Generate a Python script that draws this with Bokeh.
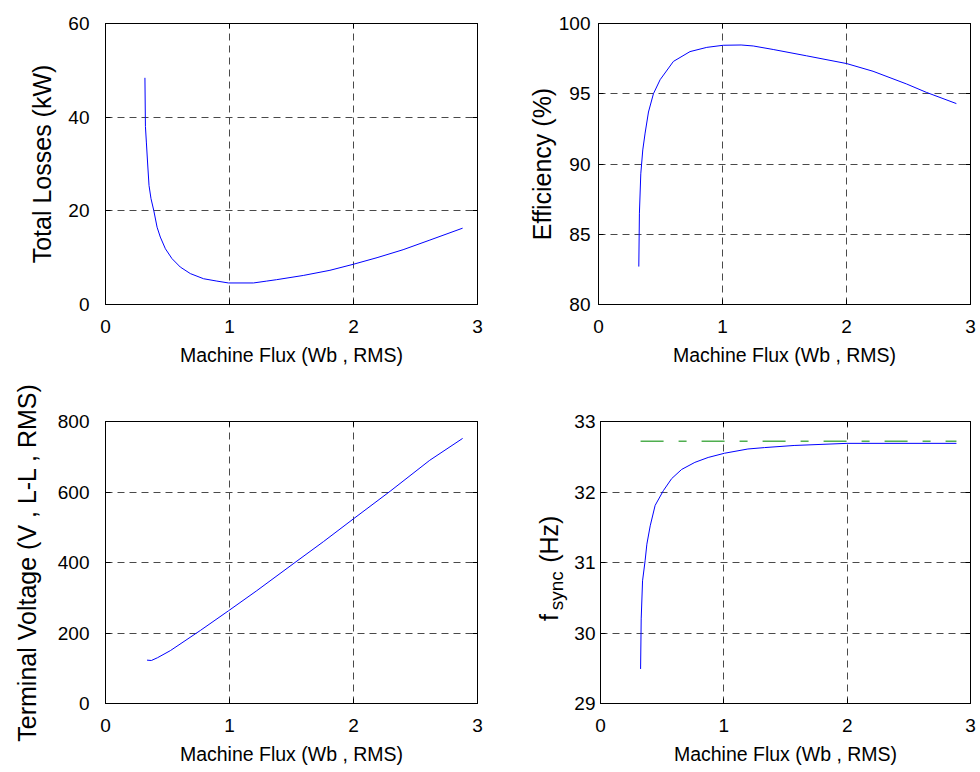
import math
from bokeh.plotting import figure
from bokeh.layouts import column, row
from bokeh.models import Range1d, FixedTicker, LinearAxis, CustomJSTickFormatter, Label
from bokeh.embed import file_html
from bokeh.resources import INLINE

FONT = "Liberation Sans"

# ---------------- data ----------------
x_ticks = [0, 1, 2, 3]
x_label = "Machine Flux (Wb , RMS)"

loss_flux = [0.318, 0.322, 0.330, 0.340, 0.351, 0.367, 0.389, 0.416, 0.442, 0.483,
             0.536, 0.603, 0.684, 0.791, 0.898, 0.992, 1.193, 1.30, 1.38, 1.595,
             1.81, 2.0, 2.19, 2.40, 2.61, 2.88]
loss_kw = [48.4, 38.0, 34.5, 30.0, 25.4, 22.6, 20.1, 16.5, 14.4, 11.9,
           9.8, 8.0, 6.6, 5.5, 5.0, 4.6, 4.6, 5.0, 5.3, 6.2,
           7.3, 8.6, 10.0, 11.7, 13.7, 16.3]
loss_ticks = [0, 20, 40, 60]

eff_flux = [0.325, 0.330, 0.341, 0.357, 0.376, 0.403, 0.443, 0.497, 0.604, 0.738,
            0.873, 1.006, 1.15, 1.248, 1.409, 1.678, 2.0, 2.214, 2.483, 2.644, 2.886]
eff_pct = [82.7, 86.5, 89.3, 91.0, 92.2, 93.7, 95.0, 96.0, 97.3, 98.0,
           98.3, 98.45, 98.47, 98.4, 98.15, 97.7, 97.15, 96.6, 95.7, 95.1, 94.3]
eff_ticks = [80, 85, 90, 95, 100]

volt_flux = [0.335, 0.37, 0.42, 0.523, 0.764, 0.992, 1.22, 1.528, 1.757, 2.0,
             2.295, 2.615, 2.88]
volt_v = [123, 122, 130, 150, 207, 263, 320, 400, 459, 524,
          602, 690, 752]
volt_ticks = [0, 200, 400, 600, 800]

fs_flux = [0.325, 0.330, 0.341, 0.362, 0.376, 0.403, 0.443, 0.51, 0.577, 0.658,
           0.765, 0.873, 1.006, 1.195, 1.33, 1.57, 2.0, 2.886]
fs_hz = [29.49, 30.2, 30.74, 31.03, 31.26, 31.52, 31.81, 32.02, 32.19, 32.32,
         32.42, 32.49, 32.55, 32.61, 32.63, 32.66, 32.69, 32.69]
fs_ref_flux = [0.325, 2.886]
fs_ref_hz = [32.72, 32.72]
fs_ticks = [29, 30, 31, 32, 33]

# ---------------- styling ----------------
TICK_SIZE = "19px"
XLABEL_SIZE = "19.5px"
YLABEL_SIZE = "25px"
SUB_SIZE = "19px"
FRAME_W = 372


def style_axis(ax):
    ax.axis_line_color = "black"
    ax.major_tick_line_color = "black"
    ax.major_tick_in = 5
    ax.major_tick_out = 0
    ax.minor_tick_line_color = None
    ax.major_label_text_font = FONT
    ax.major_label_text_font_size = TICK_SIZE
    ax.major_label_text_color = "black"
    ax.axis_label_text_font = FONT
    ax.axis_label_text_font_style = "normal"
    ax.axis_label_text_color = "black"


def make(ylabel, yr, yticks, bl, br, bt, bb, frame_h, tick_so, lab_so):
    p = figure(width=bl + FRAME_W + br, height=bt + frame_h + bb,
               x_range=Range1d(0, 3), y_range=Range1d(yr[0], yr[1]),
               output_backend="svg", toolbar_location=None, title=None,
               min_border_left=bl, min_border_right=br,
               min_border_top=bt, min_border_bottom=bb)
    p.background_fill_color = "white"
    p.border_fill_color = "white"
    p.outline_line_color = "black"
    p.outline_line_alpha = 1.0
    p.outline_line_width = 1

    p.xaxis.ticker = FixedTicker(ticks=x_ticks)
    p.yaxis.ticker = FixedTicker(ticks=yticks)
    for ax in p.xaxis:
        style_axis(ax)
        ax.axis_label = x_label
        ax.axis_label_text_font_size = XLABEL_SIZE
        ax.major_label_standoff = 15
        ax.axis_label_standoff = 8
    for ax in p.yaxis:
        style_axis(ax)
        ax.axis_label = ylabel if ylabel else None
        ax.axis_label_text_font_size = YLABEL_SIZE
        ax.major_label_standoff = tick_so
        ax.axis_label_standoff = lab_so

    # mirrored ticks on top / right (box on)
    blank = CustomJSTickFormatter(code="return ''")
    top = LinearAxis(ticker=FixedTicker(ticks=x_ticks), formatter=blank)
    right = LinearAxis(ticker=FixedTicker(ticks=yticks), formatter=blank)
    for ax in (top, right):
        style_axis(ax)
        ax.major_label_standoff = 0
    p.add_layout(top, "above")
    p.add_layout(right, "right")

    p.xgrid.ticker = FixedTicker(ticks=x_ticks)
    p.ygrid.ticker = FixedTicker(ticks=yticks)
    for g in (p.xgrid, p.ygrid):
        g.grid_line_color = "#4a4a4a"
        g.grid_line_dash = "7 5"
        g.grid_line_width = 1
    return p


BLUE = "#0000ff"

p1 = make("Total Losses (kW)", (0, 60), loss_ticks, 105, 16, 23, 67, 281, 16, 9)
p1.line(loss_flux, loss_kw, line_color=BLUE, line_width=1)

p2 = make("Efficiency (%)", (80, 100), eff_ticks, 105, 10, 23, 67, 281, 8, 0)
p2.line(eff_flux, eff_pct, line_color=BLUE, line_width=1)

p3 = make("Terminal Voltage (V , L-L , RMS)", (0, 800), volt_ticks, 105, 16, 50, 69, 282, 16, 14)
p3.line(volt_flux, volt_v, line_color=BLUE, line_width=1)

LAB_W = 78
p4 = make("", (29, 33), fs_ticks, 105 - LAB_W, 10, 50, 69, 282, 5, 0)
p4.line(fs_ref_flux, fs_ref_hz, line_color="#4fae4f", line_width=1.5,
        line_dash="23 15 8 15")
p4.line(fs_flux, fs_hz, line_color=BLUE, line_width=1)

# strip holding the y label of the f_sync plot (f with subscript "sync");
# its frame spans the same rows as the f_sync plot and shares its y range
lab = figure(width=LAB_W, height=p4.height, x_range=Range1d(0, LAB_W), y_range=p4.y_range,
             output_backend="svg", toolbar_location=None, title=None,
             x_axis_location=None, y_axis_location=None,
             min_border_left=0, min_border_right=0, min_border_top=50, min_border_bottom=69)
lab.outline_line_color = None
lab.xgrid.visible = False
lab.ygrid.visible = False
lab.background_fill_color = "white"
lab.border_fill_color = "white"

main_x = 55.5   # centre of "f" / "(Hz)" across the strip
sub_x = 62.5    # centre of the subscript
lab.add_layout(Label(x=main_x, y=30.22, text="f", angle=math.pi / 2,
                     text_font=FONT, text_font_size=YLABEL_SIZE,
                     text_baseline="middle", text_align="center", text_color="black"))
lab.add_layout(Label(x=sub_x, y=30.60, text="sync", angle=math.pi / 2,
                     text_font=FONT, text_font_size=SUB_SIZE,
                     text_baseline="middle", text_align="center", text_color="black"))
lab.add_layout(Label(x=main_x, y=31.33, text="(Hz)", angle=math.pi / 2,
                     text_font=FONT, text_font_size=YLABEL_SIZE,
                     text_baseline="middle", text_align="center", text_color="black"))

layout = column(row(p1, p2), row(p3, lab, p4))

open("out.html", "w").write(file_html(layout, INLINE))
